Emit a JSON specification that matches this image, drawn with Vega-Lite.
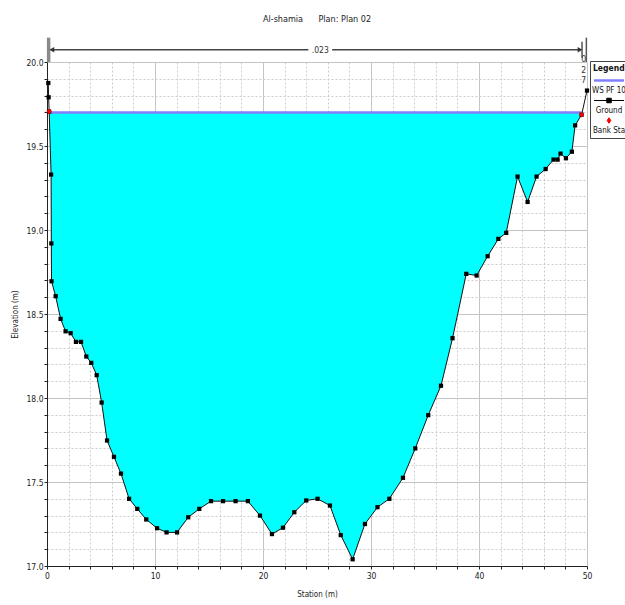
{
  "$schema": "https://vega.github.io/schema/vega-lite/v6.json",
  "width": 540,
  "height": 504,
  "autosize": "none",
  "padding": {"left": 47, "top": 62, "right": 38, "bottom": 39},
  "background": "white",
  "title": {
    "text": "Al-shamia\u00a0\u00a0\u00a0\u00a0\u00a0\u00a0Plan: Plan 02",
    "fontSize": 9,
    "fontWeight": "normal",
    "font": "Liberation Sans Narrow, DejaVu Sans Condensed, Liberation Sans, sans-serif",
    "color": "#222222",
    "anchor": "middle",
    "offset": 12
  },
  "config": {
    "view": {"stroke": null},
    "font": "Liberation Sans Narrow, DejaVu Sans Condensed, Liberation Sans, sans-serif"
  },
  "datasets": {
    "ground": [
      {"station": 0.12, "elev": 19.875},
      {"station": 0.15, "elev": 19.79},
      {"station": 0.2, "elev": 19.705},
      {"station": 0.38, "elev": 19.33},
      {"station": 0.4, "elev": 18.92},
      {"station": 0.42, "elev": 18.695},
      {"station": 0.8, "elev": 18.606},
      {"station": 1.26, "elev": 18.471},
      {"station": 1.72, "elev": 18.397},
      {"station": 2.19, "elev": 18.386},
      {"station": 2.68, "elev": 18.334},
      {"station": 3.15, "elev": 18.334},
      {"station": 3.64, "elev": 18.247},
      {"station": 4.1, "elev": 18.209},
      {"station": 4.6, "elev": 18.136},
      {"station": 5.06, "elev": 17.973},
      {"station": 5.56, "elev": 17.747},
      {"station": 6.2, "elev": 17.65},
      {"station": 6.85, "elev": 17.55},
      {"station": 7.6, "elev": 17.4},
      {"station": 8.36, "elev": 17.34},
      {"station": 9.19, "elev": 17.277},
      {"station": 10.19, "elev": 17.225},
      {"station": 11.07, "elev": 17.2},
      {"station": 12.04, "elev": 17.2},
      {"station": 13.08, "elev": 17.29},
      {"station": 14.1, "elev": 17.34},
      {"station": 15.19, "elev": 17.386},
      {"station": 16.3, "elev": 17.386},
      {"station": 17.46, "elev": 17.386},
      {"station": 18.6, "elev": 17.386},
      {"station": 19.72, "elev": 17.3},
      {"station": 20.83, "elev": 17.19},
      {"station": 21.85, "elev": 17.228},
      {"station": 22.9, "elev": 17.32},
      {"station": 24.0, "elev": 17.39},
      {"station": 25.05, "elev": 17.4},
      {"station": 26.2, "elev": 17.36},
      {"station": 27.2, "elev": 17.184},
      {"station": 28.3, "elev": 17.04},
      {"station": 29.44, "elev": 17.25},
      {"station": 30.6, "elev": 17.35},
      {"station": 31.7, "elev": 17.4},
      {"station": 32.96, "elev": 17.525},
      {"station": 34.1, "elev": 17.7},
      {"station": 35.3, "elev": 17.898},
      {"station": 36.48, "elev": 18.073},
      {"station": 37.55, "elev": 18.356},
      {"station": 38.82, "elev": 18.739},
      {"station": 39.78, "elev": 18.729},
      {"station": 40.8, "elev": 18.844},
      {"station": 41.79, "elev": 18.947},
      {"station": 42.52, "elev": 18.983},
      {"station": 43.57, "elev": 19.318},
      {"station": 44.5, "elev": 19.167},
      {"station": 45.33, "elev": 19.318},
      {"station": 46.17, "elev": 19.363},
      {"station": 46.9, "elev": 19.419},
      {"station": 47.28, "elev": 19.419},
      {"station": 47.55, "elev": 19.455},
      {"station": 48.05, "elev": 19.427},
      {"station": 48.6, "elev": 19.466},
      {"station": 48.9, "elev": 19.623},
      {"station": 49.5, "elev": 19.686},
      {"station": 50.0, "elev": 19.83}
    ],
    "bank": [
      {"station": 0.2, "elev": 19.705},
      {"station": 49.5, "elev": 19.686}
    ],
    "ws": [
      {"station": 0.2, "station2": 49.5, "elev": 19.7}
    ],
    "nline": [
      {"station": 0.35, "station2": 24.2, "elev": 20.073},
      {"station": 26.4, "station2": 49.45, "elev": 20.073}
    ],
    "nbar": [
      {"station": 0.15, "elev": 20.0, "elev2": 20.145, "kind": "left"},
      {"station": 49.54, "elev": 20.025, "elev2": 20.12, "kind": "right"},
      {"station": 49.94, "elev": 20.0, "elev2": 20.145, "kind": "right"}
    ],
    "arrows": [
      {"station": 0.45, "elev": 20.073, "dir": "left"},
      {"station": 49.35, "elev": 20.073, "dir": "right"}
    ],
    "nlabels": [
      {"station": 25.3, "elev": 20.073, "label": ".023"}
    ],
    "vlabels": [
      {"station": 49.69, "elev": 20.04, "label": "0\n2\n7"}
    ]
  },
  "layer": [
    {
      "data": {"name": "ground"},
      "transform": [{"filter": "datum.station >= 0.2 && datum.station <= 49.5"}],
      "mark": {"type": "area", "color": "#00ffff", "opacity": 1},
      "encoding": {
        "x": {
          "field": "station",
          "type": "quantitative",
          "scale": {"domain": [0, 50], "nice": false, "zero": false},
          "axis": {
            "title": "Station (m)",
            "values": [0, 2, 4, 6, 8, 10, 12, 14, 16, 18, 20, 22, 24, 26, 28, 30, 32, 34, 36, 38, 40, 42, 44, 46, 48, 50],
            "tickCount": 200,
            "format": "d",
            "labelExpr": "datum.value % 10 === 0 ? datum.label : ''",
            "labelFlush": false,
            "labelOverlap": false,
            "grid": true,
            "gridColor": {"condition": {"test": "datum.value % 10 === 0", "value": "#c4c4c4"}, "value": "#cccccc"},
            "gridDash": {"condition": {"test": "datum.value % 10 === 0", "value": []}, "value": [2, 2]},
            "gridWidth": 1,
            "domainColor": "#222222",
            "tickColor": "#222222",
            "tickSize": 3,
            "labelFontSize": 8.5,
            "labelColor": "#222222",
            "labelPadding": 2,
            "titleFontSize": 8,
            "titleFontWeight": "normal",
            "titleColor": "#222222",
            "titleX": 270,
            "titleY": 28,
            "titleBaseline": "middle"
          }
        },
        "y": {
          "field": "elev",
          "type": "quantitative",
          "scale": {"domain": [17, 20], "nice": false, "zero": false},
          "axis": {
            "title": "Elevation (m)",
            "values": [17.0, 17.1, 17.2, 17.3, 17.4, 17.5, 17.6, 17.7, 17.8, 17.9, 18.0, 18.1, 18.2, 18.3, 18.4, 18.5, 18.6, 18.7, 18.8, 18.9, 19.0, 19.1, 19.2, 19.3, 19.4, 19.5, 19.6, 19.7, 19.8, 19.9, 20.0],
            "tickCount": 200,
            "format": ".1f",
            "labelExpr": "abs(datum.value * 2 - round(datum.value * 2)) < 0.001 ? datum.label : ''",
            "labelOverlap": false,
            "grid": true,
            "gridColor": {"condition": {"test": "abs(datum.value * 2 - round(datum.value * 2)) < 0.001", "value": "#c4c4c4"}, "value": "#cccccc"},
            "gridDash": {"condition": {"test": "abs(datum.value * 2 - round(datum.value * 2)) < 0.001", "value": []}, "value": [2, 2]},
            "gridWidth": 1,
            "domainColor": "#222222",
            "tickColor": "#222222",
            "tickSize": 3,
            "labelFontSize": 8.5,
            "labelColor": "#222222",
            "labelPadding": 1,
            "titleFontSize": 8,
            "titleFontWeight": "normal",
            "titleColor": "#222222",
            "titleX": -32,
            "titleY": 252,
            "titleAngle": -90,
            "titleBaseline": "middle",
            "titleAlign": "center"
          }
        },
        "y2": {"datum": 19.7}
      }
    },
    {
      "data": {"name": "ws"},
      "mark": {"type": "rule", "strokeWidth": 2.5},
      "encoding": {
        "x": {"field": "station", "type": "quantitative", "scale": {"domain": [0, 50], "nice": false, "zero": false}},
        "x2": {"field": "station2"},
        "y": {"field": "elev", "type": "quantitative", "scale": {"domain": [17, 20], "nice": false, "zero": false}},
        "color": {
          "datum": "WS PF 10",
          "scale": {"domain": ["WS PF 10", "Ground", "Bank Sta"], "range": ["#8080ff", "#000000", "#ff0000"]},
          "legend": {
            "title": "Legend",
            "orient": "none",
            "legendX": 543,
            "legendY": -1,
            "titleFontSize": 8.5,
            "titleFontWeight": "bold",
            "titleColor": "#111111",
            "titlePadding": 2,
            "labelFontSize": 8,
            "labelColor": "#111111",
            "strokeColor": "#444444",
            "fillColor": "#ffffff",
            "padding": 3,
            "rowPadding": -1,
            "encode": {
              "symbols": {
                "update": {
                  "x": {"value": 16},
                  "y": {"value": 16},
                  "size": {"value": 900},
                  "shape": {"signal": "datum.value === 'Ground' ? 'M-1,-0.667H1M-0.15,-0.817h0.3v0.3h-0.3Z' : datum.value === 'Bank Sta' ? 'M0,-0.85L0.12,-0.667L0,-0.483L-0.12,-0.667Z' : 'M-1,-0.667H1'"},
                  "fill": {"signal": "datum.value === 'Bank Sta' ? '#ff0000' : datum.value === 'Ground' ? '#000000' : 'transparent'"},
                  "stroke": {"signal": "datum.value === 'Bank Sta' ? '#ff0000' : datum.value === 'Ground' ? '#000000' : '#8080ff'"},
                  "strokeWidth": {"signal": "datum.value === 'WS PF 10' ? 2.5 : 1"},
                  "opacity": {"value": 1}
                }
              },
              "labels": {
                "update": {
                  "x": {"value": 16},
                  "y": {"value": 16},
                  "align": {"value": "center"},
                  "baseline": {"value": "middle"}
                }
              }
            }
          }
        }
      }
    },
    {
      "data": {"name": "ground"},
      "mark": {"type": "line", "color": "#111111", "strokeWidth": 1},
      "encoding": {
        "x": {"field": "station", "type": "quantitative", "scale": {"domain": [0, 50], "nice": false, "zero": false}},
        "y": {"field": "elev", "type": "quantitative", "scale": {"domain": [17, 20], "nice": false, "zero": false}}
      }
    },
    {
      "data": {"name": "ground"},
      "mark": {"type": "point", "shape": "square", "size": 18, "filled": true, "color": "#000000", "opacity": 1},
      "encoding": {
        "x": {"field": "station", "type": "quantitative", "scale": {"domain": [0, 50], "nice": false, "zero": false}},
        "y": {"field": "elev", "type": "quantitative", "scale": {"domain": [17, 20], "nice": false, "zero": false}}
      }
    },
    {
      "data": {"name": "bank"},
      "mark": {"type": "point", "shape": "diamond", "size": 30, "filled": true, "color": "#ff0000", "opacity": 1},
      "encoding": {
        "x": {"field": "station", "type": "quantitative", "scale": {"domain": [0, 50], "nice": false, "zero": false}},
        "y": {"field": "elev", "type": "quantitative", "scale": {"domain": [17, 20], "nice": false, "zero": false}}
      }
    },
    {
      "data": {"name": "nbar"},
      "mark": {"type": "rule", "clip": false},
      "encoding": {
        "x": {"field": "station", "type": "quantitative", "scale": {"domain": [0, 50], "nice": false, "zero": false}},
        "y": {"field": "elev", "type": "quantitative", "scale": {"domain": [17, 20], "nice": false, "zero": false}},
        "y2": {"field": "elev2"},
        "strokeWidth": {"field": "kind", "type": "nominal", "scale": {"domain": ["left", "right"], "range": [3.5, 1.5]}, "legend": null},
        "stroke": {"field": "kind", "type": "nominal", "scale": {"domain": ["left", "right"], "range": ["#8a8a8a", "#555555"]}, "legend": null}
      }
    },
    {
      "data": {"name": "nline"},
      "mark": {"type": "rule", "color": "#444444", "strokeWidth": 1.5, "clip": false},
      "encoding": {
        "x": {"field": "station", "type": "quantitative", "scale": {"domain": [0, 50], "nice": false, "zero": false}},
        "x2": {"field": "station2"},
        "y": {"field": "elev", "type": "quantitative", "scale": {"domain": [17, 20], "nice": false, "zero": false}}
      }
    },
    {
      "data": {"name": "arrows"},
      "mark": {"type": "point", "filled": true, "size": 30, "color": "#333333", "opacity": 1, "clip": false},
      "encoding": {
        "x": {"field": "station", "type": "quantitative", "scale": {"domain": [0, 50], "nice": false, "zero": false}},
        "y": {"field": "elev", "type": "quantitative", "scale": {"domain": [17, 20], "nice": false, "zero": false}},
        "shape": {"field": "dir", "type": "nominal", "scale": {"domain": ["left", "right"], "range": ["triangle-left", "triangle-right"]}, "legend": null}
      }
    },
    {
      "data": {"name": "nlabels"},
      "mark": {"type": "text", "fontSize": 8.5, "color": "#333333", "align": "center", "baseline": "middle", "clip": false},
      "encoding": {
        "x": {"field": "station", "type": "quantitative", "scale": {"domain": [0, 50], "nice": false, "zero": false}},
        "y": {"field": "elev", "type": "quantitative", "scale": {"domain": [17, 20], "nice": false, "zero": false}},
        "text": {"field": "label"}
      }
    },
    {
      "data": {"name": "vlabels"},
      "mark": {"type": "text", "fontSize": 8.5, "color": "#333333", "align": "center", "baseline": "top", "lineBreak": "\n", "lineHeight": 10.5, "clip": false},
      "encoding": {
        "x": {"field": "station", "type": "quantitative", "scale": {"domain": [0, 50], "nice": false, "zero": false}},
        "y": {"field": "elev", "type": "quantitative", "scale": {"domain": [17, 20], "nice": false, "zero": false}},
        "text": {"field": "label"}
      }
    }
  ]
}
